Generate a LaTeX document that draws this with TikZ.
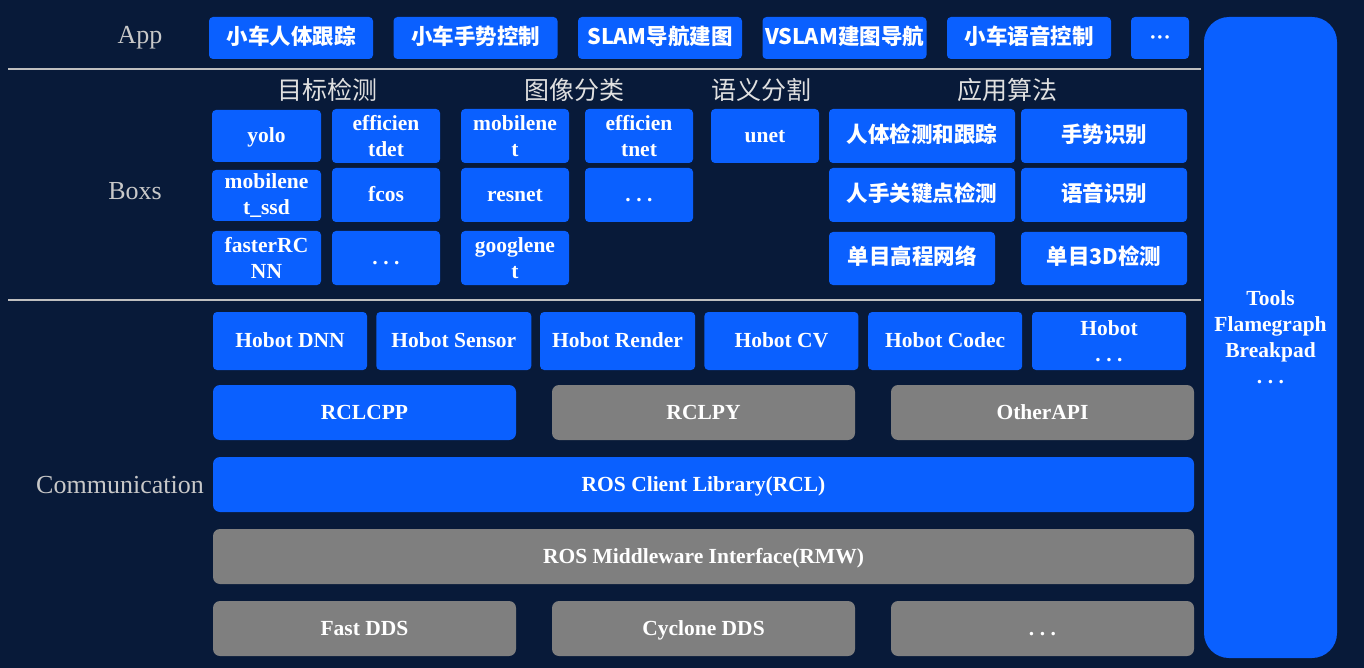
\documentclass[tikz,border=0pt]{standalone}
\usepackage{fontspec}
\setmainfont{Liberation Serif}
\newfontfamily\cjk{Noto Sans CJK SC}
\usetikzlibrary{positioning}

\definecolor{bgnavy}{HTML}{081A39}
\definecolor{boxblue}{HTML}{0A60FF}
\definecolor{boxgray}{HTML}{7F7F7F}
\definecolor{rulegray}{HTML}{BFBFBF}
\definecolor{labelgray}{HTML}{C8C8C8}

\newcommand\dotsrow{.\hspace{5.5pt}.\hspace{5.5pt}.}

\tikzset{
  blk/.style={fill=boxblue, text=white, align=center, inner sep=0pt,
    rounded corners=4pt, text height=14pt, text depth=1pt,
    font=\bfseries\fontsize{21.5}{26}\selectfont},
  gblk/.style={blk, fill=boxgray},
  two/.style={text height={}, text depth={}},
  sz/.style 2 args={minimum width=#1pt, minimum height=#2pt},
  layer/.style={text=labelgray, font=\fontsize{26}{30}\selectfont},
  header/.style={text=white!88!black, font=\cjk\fontsize{25}{28}\selectfont},
  rule/.style={draw=rulegray, line width=1.6pt}
}

\begin{document}
\begin{tikzpicture}[x=1pt,y=-1pt,on grid]
  \fill[bgnavy] (0,0) rectangle (1364,668);

  % layer names and separators
  \node[layer] (lapp) at (140,38)  {App};
  \node[layer] (lbox) at (135,191) {Boxs};
  \node[layer] (lcom) at (120,485) {Communication};
  \draw[rule] (8,69) -- (1201,69);
  \draw[rule] (8,300) -- (1201,300);

  % App
  \node[blk,sz={164}{42}] (car1) at (291,38)              {\cjk 小车人体跟踪};
  \node[blk,sz={164}{42}] (car2) [right=184.5pt of car1] {\cjk 小车手势控制};
  \node[blk,sz={164}{42}] (car3) [right=184.5pt of car2] {\cjk SLAM导航建图};
  \node[blk,sz={164}{42}] (car4) [right=184.5pt of car3] {\cjk VSLAM建图导航};
  \node[blk,sz={164}{42}] (car5) [right=184.5pt of car4] {\cjk 小车语音控制};
  \node[blk,sz={58}{42}]  (car6) [right=131pt of car5]   {···};

  % Boxs
  \node[header] (det) at (327,90)  {目标检测};
  \node[header] (cls) at (574,90)  {图像分类};
  \node[header] (seg) at (761,90)  {语义分割};
  \node[header] (alg) at (1007,90) {应用算法};

  \node[blk,sz={109}{52}]     (yolo)  at (266.5,136)         {yolo};
  \node[blk,two,sz={109}{51}] (mssd)  [below=59.5pt of yolo] {mobilene\\t\_ssd};
  \node[blk,two,sz={109}{54}] (frcnn) [below=62.5pt of mssd] {fasterRC\\NN};
  \node[blk,two,sz={108}{54}] (edet)  at (386,136)           {efficien\\tdet};
  \node[blk,sz={108}{54}]     (fcos)  [below=59pt of edet]   {fcos};
  \node[blk,sz={108}{54}]     (dmore) [below=63pt of fcos]   {\dotsrow};

  \node[blk,two,sz={108}{54}] (mnet)  at (515,136)           {mobilene\\t};
  \node[blk,sz={108}{54}]     (rnet)  [below=59pt of mnet]   {resnet};
  \node[blk,two,sz={108}{54}] (gnet)  [below=63pt of rnet]   {googlene\\t};
  \node[blk,two,sz={108}{54}] (enet)  at (639,136)           {efficien\\tnet};
  \node[blk,sz={108}{54}]     (cmore) [below=59pt of enet]   {\dotsrow};

  \node[blk,sz={108}{54}]     (unet)  at (765,136)           {unet};

  \node[blk,sz={186}{54}] (body)  at (922,136)           {\cjk 人体检测和跟踪};
  \node[blk,sz={186}{54}] (hand)  [below=59pt of body]   {\cjk 人手关键点检测};
  \node[blk,sz={166}{53}] (elev)  at (912,258.5)         {\cjk 单目高程网络};
  \node[blk,sz={166}{54}] (gest)  at (1104,136)          {\cjk 手势识别};
  \node[blk,sz={166}{54}] (voice) [below=59pt of gest]   {\cjk 语音识别};
  \node[blk,sz={166}{53}] (mono)  at (1104,258.5)        {\cjk 单目3D检测};

  % Communication
  \node[blk,sz={154}{58}]     (dnn)    at (290,341)              {Hobot DNN};
  \node[blk,sz={155}{58}]     (sensor) [right=163.8pt of dnn]    {Hobot Sensor};
  \node[blk,sz={155}{58}]     (render) [right=163.8pt of sensor] {Hobot Render};
  \node[blk,sz={154}{58}]     (cv)     [right=163.8pt of render] {Hobot CV};
  \node[blk,sz={154}{58}]     (codec)  [right=163.8pt of cv]     {Hobot Codec};
  \node[blk,two,sz={154}{58}] (hmore)  [right=163.8pt of codec]  {Hobot\\\dotsrow};

  \node[blk,sz={303}{55},rounded corners=7pt]  (rclcpp) at (364.5,412.5)        {RCLCPP};
  \node[gblk,sz={303}{55},rounded corners=7pt] (rclpy)  [right=339pt of rclcpp] {RCLPY};
  \node[gblk,sz={303}{55},rounded corners=7pt] (other)  [right=339pt of rclpy]  {OtherAPI};
  \node[blk,sz={981}{55},rounded corners=7pt]  (rcl)    [below=72pt of rclpy]   {ROS Client Library(RCL)};
  \node[gblk,sz={981}{55},rounded corners=7pt] (rmw)    [below=72pt of rcl]     {ROS Middleware Interface(RMW)};
  \node[gblk,sz={303}{55},rounded corners=7pt] (fast)   [below=216pt of rclcpp] {Fast DDS};
  \node[gblk,sz={303}{55},rounded corners=7pt] (cyc)    [right=339pt of fast]   {Cyclone DDS};
  \node[gblk,sz={303}{55},rounded corners=7pt] (ddsetc) [right=339pt of cyc]    {\dotsrow};

  % Tools
  \node[blk,two,sz={133}{641},rounded corners=25pt] (tools) at (1270.5,337.5)
       {Tools\\Flamegraph\\Breakpad\\\dotsrow};
\end{tikzpicture}
\end{document}
